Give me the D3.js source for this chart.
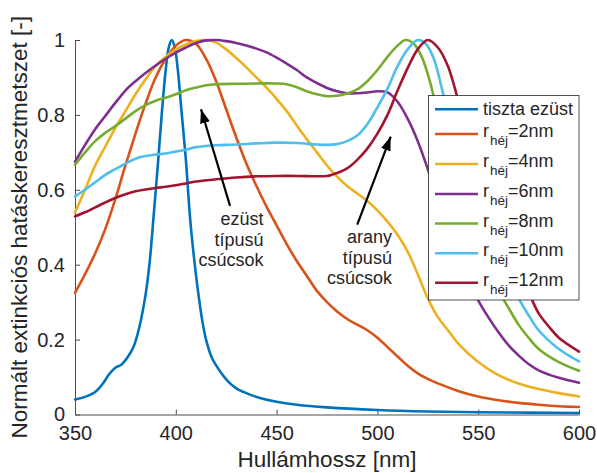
<!DOCTYPE html>
<html>
<head>
<meta charset="utf-8">
<script src="https://cdn.jsdelivr.net/npm/d3@7"></script>
<style>
  html, body { margin: 0; padding: 0; background: #fff; }
  svg { display: block; font-family: "Liberation Sans", Arial, Helvetica, sans-serif; }
</style>
</head>
<body>
<svg id="chart" width="597" height="473"></svg>
<script>
// Normalised extinction cross-section spectra of Ag@Au core-shell particles
const seriesNames = ["tiszta ezüst", "2nm", "4nm", "6nm", "8nm", "10nm", "12nm"];
const seriesColors = ["#0072BD", "#D95319", "#EDB120", "#7E2F8E", "#77AC30", "#4DBEEE", "#A2142F"];

// [wavelength nm, normalised extinction]
const pureSilver = [[350,0.040],[355,0.047],[360,0.060],[364,0.084],[367,0.108],[370,0.125],[373,0.133],[376,0.152],[379,0.18],[382,0.235],[385,0.32],[387,0.405],[389,0.53],[391,0.66],[393,0.80],[395,0.92],[396.5,0.98],[398,1.0],[399.5,0.98],[401,0.92],[403,0.80],[405,0.68],[407,0.53],[409,0.42],[411,0.33],[413,0.255],[415,0.20],[418,0.15],[422,0.115],[426,0.088],[430,0.07],[435,0.057],[440,0.047],[450,0.034],[460,0.026],[475,0.019],[500,0.012],[525,0.008],[550,0.006],[575,0.005],[600,0.004]];

const shell2 = [[350,0.325],[355,0.375],[360,0.43],[365,0.495],[370,0.575],[375,0.665],[380,0.75],[385,0.83],[390,0.90],[395,0.95],[400,0.985],[405,1.0],[410,0.99],[415,0.95],[420,0.89],[425,0.815],[430,0.74],[435,0.67],[440,0.61],[445,0.555],[450,0.505],[455,0.455],[460,0.41],[465,0.37],[470,0.33],[475,0.30],[480,0.275],[485,0.255],[490,0.24],[495,0.225],[500,0.205],[505,0.18],[510,0.155],[515,0.13],[520,0.11],[525,0.095],[530,0.083],[540,0.063],[550,0.048],[560,0.038],[570,0.031],[580,0.026],[590,0.022],[600,0.02]];

const shell4 = [[350,0.54],[355,0.60],[360,0.665],[365,0.715],[370,0.765],[375,0.81],[380,0.855],[385,0.895],[390,0.93],[395,0.955],[400,0.975],[405,0.988],[410,0.997],[415,1.0],[420,0.993],[425,0.975],[430,0.952],[435,0.927],[440,0.90],[445,0.873],[450,0.843],[455,0.81],[460,0.772],[465,0.735],[470,0.70],[475,0.665],[480,0.635],[485,0.61],[490,0.59],[495,0.57],[500,0.545],[505,0.515],[510,0.48],[515,0.435],[520,0.375],[525,0.31],[530,0.26],[535,0.225],[540,0.19],[550,0.14],[560,0.105],[570,0.083],[580,0.068],[590,0.057],[600,0.048]];

const shell6 = [[350,0.675],[355,0.72],[360,0.762],[365,0.797],[370,0.832],[375,0.865],[380,0.89],[385,0.912],[390,0.932],[395,0.95],[400,0.966],[405,0.98],[410,0.992],[415,0.999],[420,1.0],[425,0.997],[430,0.992],[435,0.985],[440,0.977],[445,0.967],[450,0.953],[455,0.937],[460,0.92],[465,0.90],[470,0.885],[475,0.872],[480,0.863],[485,0.858],[490,0.858],[495,0.86],[500,0.863],[505,0.86],[510,0.835],[515,0.79],[520,0.73],[525,0.655],[530,0.57],[535,0.49],[540,0.42],[545,0.36],[550,0.305],[555,0.26],[560,0.22],[565,0.185],[570,0.158],[575,0.135],[580,0.118],[590,0.098],[600,0.085]];

const shell8 = [[350,0.667],[355,0.70],[360,0.73],[365,0.752],[370,0.77],[375,0.79],[380,0.81],[385,0.826],[390,0.838],[395,0.846],[400,0.855],[405,0.866],[410,0.873],[415,0.879],[420,0.882],[430,0.883],[440,0.884],[450,0.884],[455,0.882],[460,0.874],[465,0.863],[470,0.855],[475,0.85],[480,0.851],[485,0.857],[490,0.868],[495,0.89],[500,0.92],[505,0.955],[510,0.985],[514,1.0],[518,0.99],[522,0.955],[526,0.89],[530,0.80],[535,0.69],[540,0.59],[545,0.50],[550,0.43],[555,0.37],[560,0.33],[565,0.285],[570,0.24],[575,0.205],[580,0.175],[590,0.14],[600,0.117]];

const shell10 = [[350,0.582],[355,0.60],[360,0.62],[365,0.64],[370,0.655],[375,0.67],[380,0.683],[385,0.69],[390,0.694],[395,0.697],[400,0.702],[405,0.707],[410,0.714],[415,0.717],[420,0.719],[430,0.721],[440,0.724],[450,0.726],[460,0.725],[470,0.721],[475,0.72],[480,0.722],[485,0.73],[490,0.745],[495,0.775],[500,0.82],[505,0.87],[510,0.93],[515,0.975],[520,1.0],[524,0.99],[528,0.95],[532,0.87],[536,0.78],[540,0.69],[545,0.59],[550,0.51],[555,0.45],[560,0.40],[565,0.355],[570,0.31],[575,0.265],[580,0.225],[590,0.175],[600,0.142]];

const shell12 = [[350,0.529],[355,0.54],[360,0.553],[365,0.566],[370,0.578],[375,0.588],[380,0.596],[385,0.601],[390,0.605],[395,0.608],[400,0.612],[405,0.617],[410,0.622],[420,0.628],[430,0.633],[440,0.636],[450,0.637],[460,0.637],[470,0.636],[475,0.637],[480,0.645],[485,0.657],[490,0.68],[495,0.71],[500,0.75],[505,0.80],[510,0.865],[515,0.925],[520,0.975],[525,1.0],[530,0.98],[535,0.93],[540,0.84],[545,0.74],[550,0.64],[555,0.55],[560,0.48],[565,0.42],[570,0.37],[575,0.325],[580,0.27],[585,0.235],[590,0.205],[600,0.168]];

const seriesValues = [pureSilver, shell2, shell4, shell6, shell8, shell10, shell12];

const xTicks = [350, 400, 450, 500, 550, 600];
const yTicks = [0, 0.2, 0.4, 0.6, 0.8, 1];
const xLabel = "Hullámhossz [nm]";
const yLabel = "Normált extinkciós hatáskeresztmetszet [-]";

// annotations: arrow tail -> tip in data units, text anchor (right edge, first baseline)
const annotations = [
  { lines: ["ezüst", "típusú", "csúcsok"], anchor: [443.5, 0.505], tail: [426.9, 0.557], tip: [412.5, 0.815] },
  { lines: ["arany", "típusú", "csúcsok"], anchor: [507.2, 0.457], tail: [490.0, 0.507], tip: [506.6, 0.742] }
];

const svg = d3.select("#chart");
const x = d3.scaleLinear().domain([350, 600]).range([75, 579]);
const y = d3.scaleLinear().domain([0, 1]).range([414.5, 40]);

const axisColor = "#4d4d4d";
const textColor = "#262626";

// axes (inward ticks, no box)
const gx = svg.append("g").attr("transform", `translate(0,${y(0)})`)
  .call(d3.axisBottom(x).tickValues(xTicks).tickSizeInner(-5).tickSizeOuter(0).tickPadding(11).tickFormat(d3.format("d")));
const gy = svg.append("g").attr("transform", `translate(${x(350)},0)`)
  .call(d3.axisLeft(y).tickValues(yTicks).tickSizeInner(-5).tickSizeOuter(0).tickPadding(10).tickFormat(d => d === 0 || d === 1 ? d3.format("d")(d) : d3.format(".1f")(d)));
[gx, gy].forEach(g => {
  g.select(".domain").attr("stroke", axisColor).attr("stroke-width", 1);
  g.selectAll(".tick line").attr("stroke", axisColor).attr("stroke-width", 1);
  g.selectAll(".tick text").attr("fill", textColor).style("font-size", "20px").style("font-family", "Liberation Sans, Arial, sans-serif");
});
gx.selectAll(".tick text").attr("dy", "0.71em");

svg.append("text").attr("x", (x(350) + x(600)) / 2).attr("y", 467)
  .attr("text-anchor", "middle").attr("fill", textColor).style("font-size", "22.5px").text(xLabel);
svg.append("text").attr("transform", `translate(27,${(y(0) + y(1)) / 2}) rotate(-90)`)
  .attr("text-anchor", "middle").attr("fill", textColor).style("font-size", "22.5px").text(yLabel);

// spectra
const line = d3.line().x(d => x(d[0])).y(d => y(d[1])).curve(d3.curveCatmullRom.alpha(0.5));
svg.append("g").selectAll("path").data(seriesValues).join("path")
  .attr("d", line).attr("fill", "none")
  .attr("stroke", (d, i) => seriesColors[i]).attr("stroke-width", 2.6)
  .attr("stroke-linejoin", "round").attr("stroke-linecap", "round");

// annotation arrows and labels
const defs = svg.append("defs");
defs.append("marker").attr("id", "arrowhead").attr("viewBox", "0 0 14 10")
  .attr("refX", 14).attr("refY", 5).attr("markerWidth", 14).attr("markerHeight", 10)
  .attr("markerUnits", "userSpaceOnUse").attr("orient", "auto")
  .append("path").attr("d", "M0,0 L14,5 L0,10 Z").attr("fill", "#000");

annotations.forEach(a => {
  svg.append("line")
    .attr("x1", x(a.tail[0])).attr("y1", y(a.tail[1]))
    .attr("x2", x(a.tip[0])).attr("y2", y(a.tip[1]))
    .attr("stroke", "#000").attr("stroke-width", 2.2).attr("marker-end", "url(#arrowhead)");
  const t = svg.append("text").attr("text-anchor", "end").attr("fill", textColor).style("font-size", "18px");
  a.lines.forEach((s, i) => {
    t.append("tspan").attr("x", x(a.anchor[0])).attr("y", y(a.anchor[1]) + i * 20.3).text(s);
  });
});

// legend
const lg = svg.append("g");
lg.append("rect").attr("x", 428.5).attr("y", 95.5).attr("width", 150.5).attr("height", 204.5)
  .attr("fill", "#fff").attr("stroke", "#262626").attr("stroke-width", 0.8);
const rowY = [109.3, 134, 164, 194, 223.5, 253.3, 282.7];
seriesNames.forEach((name, i) => {
  lg.append("line").attr("x1", 435).attr("x2", 478).attr("y1", rowY[i]).attr("y2", rowY[i])
    .attr("stroke", seriesColors[i]).attr("stroke-width", 2.6);
  const t = lg.append("text").attr("x", 483).attr("fill", textColor).style("font-size", "18px");
  if (i === 0) {
    t.attr("y", rowY[i] + 6).text(name);
  } else {
    t.attr("y", rowY[i] + 3);
    t.append("tspan").text("r");
    t.append("tspan").attr("dx", 1).attr("dy", 8).style("font-size", "13.5px").text("héj");
    t.append("tspan").attr("dy", -8).text("=" + name);
  }
});
</script>
</body>
</html>
